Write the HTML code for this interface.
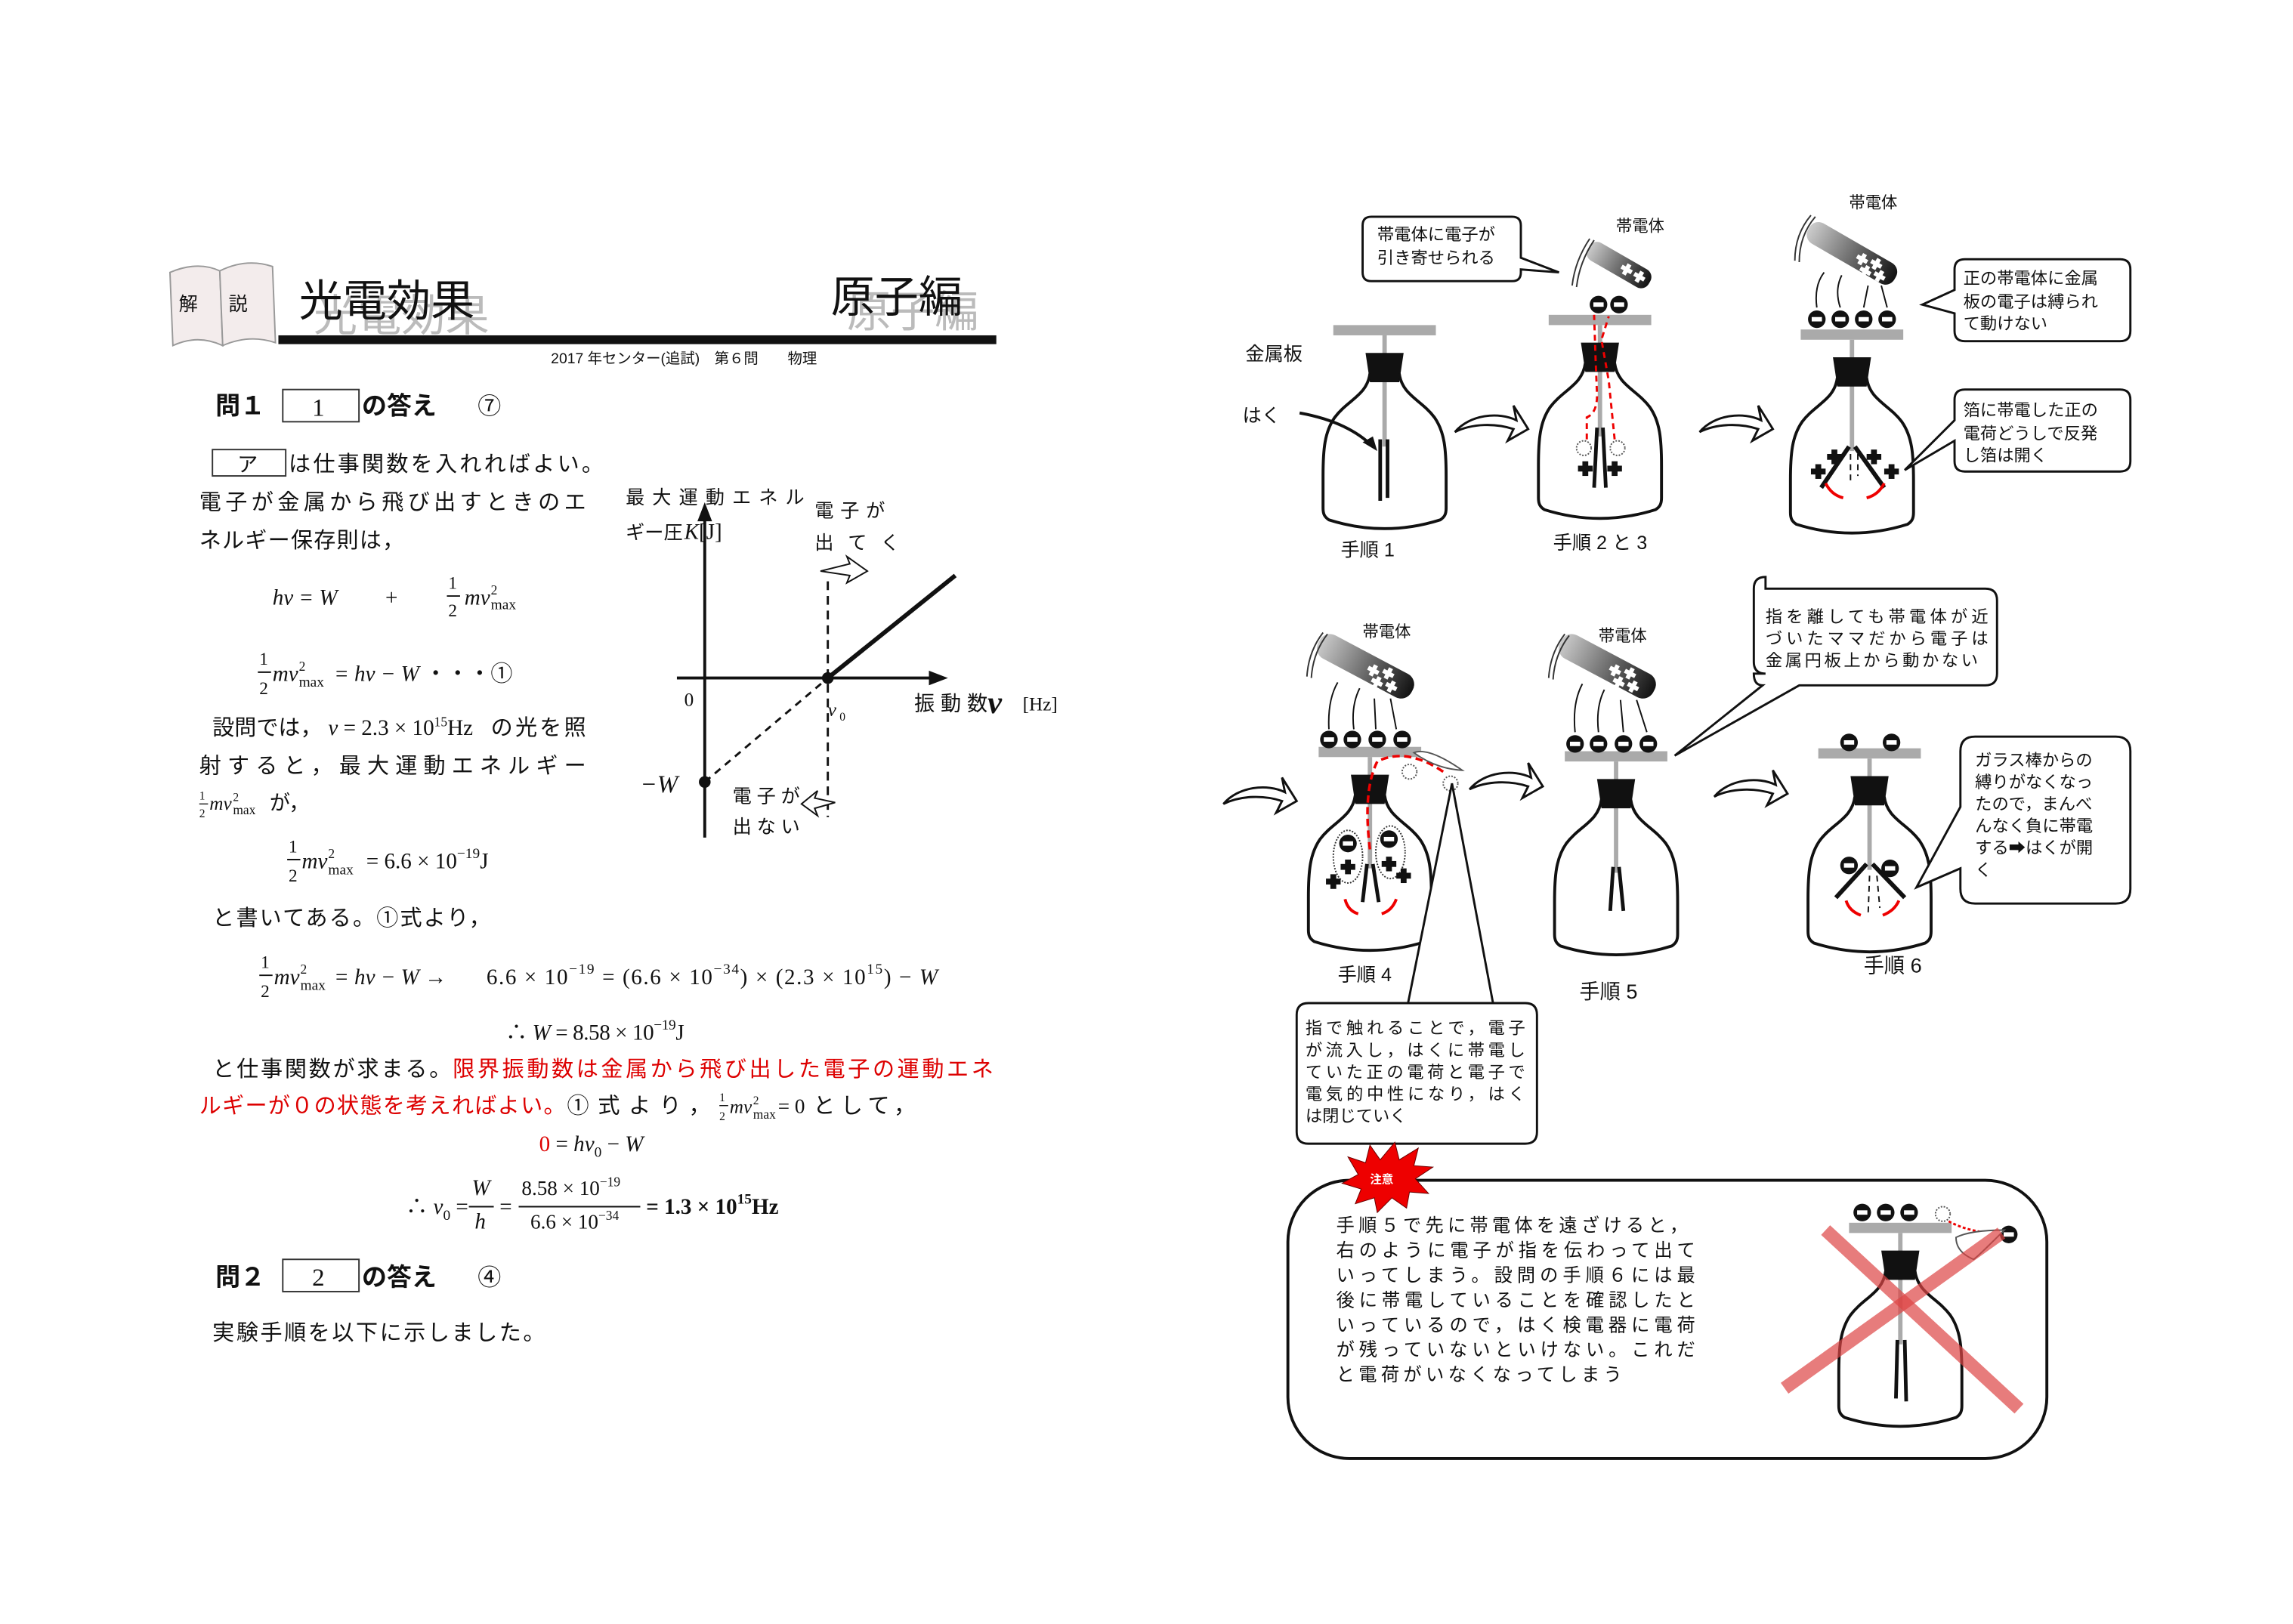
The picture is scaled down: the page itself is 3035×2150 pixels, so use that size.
<!DOCTYPE html>
<html><head><meta charset="utf-8">
<style>
html,body{margin:0;padding:0;background:#fff;}
svg{display:block;}
text{font-family:"Liberation Sans","Noto Sans CJK JP",sans-serif;fill:#111;}
.m{font-family:"Liberation Serif","Noto Sans CJK JP",serif;font-style:italic;}
.r{font-family:"Liberation Serif","Noto Sans CJK JP",serif;}
.red{fill:#d00;}
</style></head><body>
<svg width="3035" height="2150" viewBox="0 0 1565 1109" preserveAspectRatio="none" xmlns="http://www.w3.org/2000/svg">
<defs>
<linearGradient id="rg" x1="0" y1="0" x2="1" y2="0"><stop offset="0" stop-color="#ccc"/><stop offset="1" stop-color="#111"/></linearGradient>
<g id="bottle">
<rect x="-35" y="-3" width="70" height="7" fill="#aaa"/>
<line x1="0" y1="4" x2="0" y2="80" stroke="#aaa" stroke-width="3"/>
<polygon points="-13,16 13,16 10,36 -10,36" fill="#111"/>
<path d="M-10,30 C-12,45 -25,48 -34,60 C-41,70 -42,82 -42,100 L-42,122 C-42,126 -41,128 -38,130 Q0,142 38,130 C41,128 42,126 42,122 L42,100 C42,82 41,70 34,60 C25,48 12,45 10,30" fill="none" stroke="#111" stroke-width="2"/>
</g>
<g id="el"><circle r="6" fill="#111"/><rect x="-3.5" y="-1.5" width="7" height="3" fill="#fff"/></g>
<g id="harrow"><path d="M0,12 C10,0 30,-2 42,4 L40,-6 L50,10 L36,18 L40,10 C28,6 12,6 0,12 Z" fill="#fff" stroke="#111" stroke-width="1.5"/></g>
<g id="pl"><rect x="-4" y="-1.5" width="8" height="3" fill="#fff"/><rect x="-1.5" y="-4" width="3" height="8" fill="#fff"/></g>
<g id="bpl"><rect x="-5" y="-2" width="10" height="4" fill="#111"/><rect x="-2" y="-5" width="4" height="10" fill="#111"/></g>
</defs>

<!-- Header -->
<path d="M116,186 Q135,178 150,185 L152,236 Q135,228 118,236 Z" fill="#f3ecec" stroke="#999"/>
<path d="M150,185 Q168,176 186,182 L188,234 Q170,228 152,236 Z" fill="#f3ecec" stroke="#999"/>
<text x="122" y="212" font-size="13">解</text><text x="156" y="212" font-size="13">説</text>
<text x="214" y="226" font-size="30" style="fill:#bbb">光電効果</text>
<text x="204" y="216" font-size="30">光電効果</text>
<text x="578" y="223" font-size="30" style="fill:#bbb">原子編</text>
<text x="567" y="213" font-size="30">原子編</text>
<rect x="190" y="229" width="490" height="6" fill="#111"/>
<text x="376" y="248" font-size="10">2017 年センター(追試)　第６問　　物理</text>

<!-- Left text -->
<text x="147" y="283" font-size="17" font-weight="bold">問１</text>
<rect x="193" y="266" width="52" height="22" fill="none" stroke="#333"/>
<text x="213" y="284" font-size="17" class="r">1</text>
<text x="247" y="283" font-size="17" font-weight="bold">の答え</text>
<text x="326" y="283" font-size="16">⑦</text>

<rect x="145" y="307" width="50" height="18" fill="none" stroke="#333"/>
<text x="162" y="322" font-size="14">ア</text>
<text x="197" y="322" font-size="15" textLength="215" lengthAdjust="spacing">は仕事関数を入れればよい。</text>
<text x="136" y="348" font-size="15" textLength="264" lengthAdjust="spacing">電子が金属から飛び出すときのエ</text>
<text x="136" y="374" font-size="15" textLength="140" lengthAdjust="spacing">ネルギー保存則は，</text>

<text x="186" y="413" font-size="15" class="m">hν = W</text>
<text x="263" y="413" font-size="15" class="r">+</text>
<text x="306" y="402" font-size="12" class="r">1</text><line x1="305" y1="407" x2="314" y2="407" stroke="#111"/><text x="306" y="421" font-size="12" class="r">2</text>
<text x="317" y="413" font-size="15" class="m">mv</text><text x="335" y="406" font-size="9" class="r">2</text><text x="335" y="416" font-size="10" class="r">max</text>

<text x="177" y="454" font-size="12" class="r">1</text><line x1="176" y1="459" x2="185" y2="459" stroke="#111"/><text x="177" y="474" font-size="12" class="r">2</text>
<text x="186" y="465" font-size="15" class="m">mv</text><text x="204" y="458" font-size="9" class="r">2</text><text x="204" y="469" font-size="10" class="r">max</text>
<text x="228" y="465" font-size="15" class="m">= hν − W <tspan class="r" style="font-style:normal">・・・①</tspan></text>

<text x="145" y="502" font-size="15">設問では，</text>
<text x="224" y="502" font-size="15" class="r"><tspan class="m">ν</tspan> = 2.3 × 10<tspan font-size="9" dy="-6">15</tspan><tspan dy="6">Hz</tspan></text>
<text x="335" y="502" font-size="15" textLength="65" lengthAdjust="spacing">の光を照</text>
<text x="136" y="528" font-size="15" textLength="264" lengthAdjust="spacing">射すると，最大運動エネルギー</text>
<text x="136" y="546" font-size="8" class="r">1</text><line x1="136" y1="549" x2="142" y2="549" stroke="#111" stroke-width=".7"/><text x="136" y="558" font-size="8" class="r">2</text>
<text x="143" y="553" font-size="13" class="m">mv</text><text x="159" y="547" font-size="8" class="r">2</text><text x="159" y="556" font-size="9" class="r">max</text>
<text x="184" y="553" font-size="14">が，</text>

<text x="197" y="582" font-size="12" class="r">1</text><line x1="196" y1="587" x2="205" y2="587" stroke="#111"/><text x="197" y="602" font-size="12" class="r">2</text>
<text x="206" y="593" font-size="15" class="m">mv</text><text x="224" y="586" font-size="9" class="r">2</text><text x="224" y="597" font-size="10" class="r">max</text>
<text x="250" y="593" font-size="15" class="r">= 6.6 × 10<tspan font-size="10" dy="-7">−19</tspan><tspan dy="7">J</tspan></text>

<text x="145" y="632" font-size="15" textLength="190" lengthAdjust="spacing">と書いてある。①式より，</text>

<text x="178" y="661" font-size="12" class="r">1</text><line x1="177" y1="666" x2="186" y2="666" stroke="#111"/><text x="178" y="681" font-size="12" class="r">2</text>
<text x="187" y="672" font-size="15" class="m">mv</text><text x="205" y="665" font-size="9" class="r">2</text><text x="205" y="676" font-size="10" class="r">max</text>
<text x="228" y="672" font-size="15" class="m">= hν − W →</text>
<text x="332" y="672" font-size="15" class="r" textLength="308" lengthAdjust="spacing">6.6 × 10<tspan font-size="10" dy="-7">−19</tspan><tspan dy="7"> = (6.6 × 10</tspan><tspan font-size="10" dy="-7">−34</tspan><tspan dy="7">) × (2.3 × 10</tspan><tspan font-size="10" dy="-7">15</tspan><tspan dy="7">) − </tspan><tspan class="m">W</tspan></text>

<text x="345" y="710" font-size="15" class="r" textLength="122" lengthAdjust="spacing">∴ <tspan class="m">W</tspan> = 8.58 × 10<tspan font-size="10" dy="-7">−19</tspan><tspan dy="7">J</tspan></text>

<text x="145" y="735" font-size="15" textLength="163" lengthAdjust="spacing">と仕事関数が求まる。</text>
<text x="309" y="735" font-size="15" class="red" textLength="369" lengthAdjust="spacing">限界振動数は金属から飛び出した電子の運動エネ</text>
<text x="136" y="760" font-size="15" class="red" textLength="250" lengthAdjust="spacing">ルギーが０の状態を考えればよい。</text>
<text x="387" y="760" font-size="15" textLength="98" lengthAdjust="spacing">①式より，</text>
<text x="491" y="752" font-size="8" class="r">1</text><line x1="491" y1="755" x2="497" y2="755" stroke="#111" stroke-width=".7"/><text x="491" y="765" font-size="8" class="r">2</text>
<text x="498" y="760" font-size="13" class="m">mv</text><text x="514" y="754" font-size="8" class="r">2</text><text x="514" y="764" font-size="9" class="r">max</text>
<text x="531" y="760" font-size="14" class="r">= 0</text><text x="555" y="760" font-size="15" textLength="70" lengthAdjust="spacing">として，</text>

<text x="368" y="786" font-size="15" class="r"><tspan class="red">0</tspan> = <tspan class="m">hν</tspan><tspan font-size="10" dy="4">0</tspan><tspan dy="-4"> − </tspan><tspan class="m">W</tspan></text>

<text x="277" y="829" font-size="15" class="r">∴ <tspan class="m">ν</tspan><tspan font-size="10" dy="4">0</tspan><tspan dy="-4"> =</tspan></text>
<text x="322" y="816" font-size="15" class="m">W</text><line x1="320" y1="824" x2="337" y2="824" stroke="#111"/><text x="324" y="839" font-size="15" class="m">h</text>
<text x="341" y="829" font-size="15" class="r">=</text>
<text x="356" y="816" font-size="14" class="r">8.58 × 10<tspan font-size="9" dy="-6">−19</tspan></text><line x1="354" y1="824" x2="437" y2="824" stroke="#111"/>
<text x="362" y="839" font-size="14" class="r">6.6 × 10<tspan font-size="9" dy="-6">−34</tspan></text>
<text x="441" y="829" font-size="15" class="r" font-weight="bold">= 1.3 × 10<tspan font-size="10" dy="-7">15</tspan><tspan dy="7">Hz</tspan></text>

<text x="147" y="878" font-size="17" font-weight="bold">問２</text>
<rect x="193" y="860" width="52" height="22" fill="none" stroke="#333"/>
<text x="213" y="878" font-size="17" class="r">2</text>
<text x="247" y="878" font-size="17" font-weight="bold">の答え</text>
<text x="326" y="878" font-size="16">④</text>
<text x="145" y="915" font-size="15" textLength="227" lengthAdjust="spacing">実験手順を以下に示しました。</text>

<!-- Graph -->
<line x1="481" y1="572" x2="481" y2="350" stroke="#111" stroke-width="2"/>
<polygon points="481,343 476,356 486,356" fill="#111"/>
<line x1="462" y1="463" x2="640" y2="463" stroke="#111" stroke-width="2"/>
<polygon points="647,463 634,458 634,468" fill="#111"/>
<line x1="565" y1="463" x2="652" y2="393" stroke="#111" stroke-width="3"/>
<line x1="481" y1="534" x2="565" y2="463" stroke="#111" stroke-width="1.5" stroke-dasharray="5,4"/>
<line x1="565" y1="397" x2="565" y2="558" stroke="#111" stroke-width="1.5" stroke-dasharray="6,4"/>
<circle cx="565" cy="463" r="4" fill="#111"/><circle cx="481" cy="534" r="4" fill="#111"/>
<text x="427" y="344" font-size="13" textLength="122" lengthAdjust="spacing">最大運動エネル</text>
<text x="427" y="368" font-size="13">ギー圧</text><text x="467" y="368" font-size="15" class="m">K</text><text x="477" y="368" font-size="15" class="r">[J]</text>
<text x="556" y="353" font-size="13" textLength="48" lengthAdjust="spacing">電子が</text>
<text x="556" y="375" font-size="13" textLength="58" lengthAdjust="spacing">出てく</text>
<path d="M560,390 L580,385 L578,380 L592,390 L578,398 L580,393 Z" fill="#fff" stroke="#111"/>
<path d="M570,548 L556,545 L558,540 L547,549 L558,557 L556,552 Z" fill="#fff" stroke="#111"/>
<text x="467" y="482" font-size="13" class="r">0</text>
<text x="565" y="489" font-size="13" class="m">ν</text><text x="573" y="492" font-size="8" class="r">0</text>
<text x="624" y="485" font-size="14" textLength="50" lengthAdjust="spacing">振動数</text>
<text x="674" y="487" font-size="22" class="m" font-weight="bold">ν</text>
<text x="698" y="485" font-size="13" class="r">[Hz]</text>
<text x="437" y="541" font-size="17" class="m">−W</text>
<text x="500" y="548" font-size="13" textLength="46" lengthAdjust="spacing">電子が</text>
<text x="500" y="569" font-size="13" textLength="46" lengthAdjust="spacing">出ない</text>

<!-- Right: steps -->
<use href="#bottle" x="945" y="225"/>
<line x1="942" y1="300" x2="942" y2="342" stroke="#111" stroke-width="2.5"/><line x1="947" y1="300" x2="947" y2="340" stroke="#111" stroke-width="2.5"/>
<text x="850" y="246" font-size="13">金属板</text>
<text x="848" y="288" font-size="13">はく</text>
<path d="M887,282 Q920,288 937,305" fill="none" stroke="#111" stroke-width="2"/><polygon points="940,308 930,302 937,298" fill="#111"/>
<text x="915" y="380" font-size="13">手順 1</text>

<use href="#bottle" x="1092" y="218"/>
<line x1="1090" y1="292" x2="1088" y2="333" stroke="#111" stroke-width="2.5"/><line x1="1094" y1="292" x2="1096" y2="333" stroke="#111" stroke-width="2.5"/>
<use href="#bpl" x="1082" y="320"/><use href="#bpl" x="1102" y="320"/>
<circle cx="1081" cy="306" r="5" fill="none" stroke="#555" stroke-dasharray="1,1"/><circle cx="1104" cy="306" r="5" fill="none" stroke="#555" stroke-dasharray="1,1"/>
<path d="M1083,300 L1083,285 Q1090,282 1090,270 L1089,245 L1088,215" fill="none" stroke="#e00" stroke-width="1.5" stroke-dasharray="4,3"/>
<path d="M1102,300 L1098,260 L1093,232 L1098,216" fill="none" stroke="#e00" stroke-width="1.5" stroke-dasharray="4,3"/>
<use href="#el" x="1091" y="208"/><use href="#el" x="1105" y="208"/>
<g transform="translate(1105,181) rotate(30)"><rect x="-24" y="-7" width="48" height="14" rx="6" fill="url(#rg)"/><use href="#pl" x="6"/><use href="#pl" x="16"/></g>
<path d="M1085,163 Q1075,178 1073,195 M1088,164 Q1078,179 1076,196" fill="none" stroke="#333"/>
<text x="1103" y="158" font-size="11">帯電体</text>
<text x="1060" y="375" font-size="13">手順 2 と 3</text>
<path d="M936,148 h96 q6,0 6,6 v22 l26,10 l-26,-2 v2 q0,6 -6,6 h-96 q-6,0 -6,-6 v-32 q0,-6 6,-6z" fill="#fff" stroke="#111" stroke-width="1.5"/>
<text x="940" y="164" font-size="11.5">帯電体に電子が</text><text x="940" y="180" font-size="11.5">引き寄せられる</text>

<use href="#bottle" x="1264" y="228"/>
<line x1="1262" y1="305" x2="1243" y2="333" stroke="#111" stroke-width="3"/><line x1="1266" y1="305" x2="1286" y2="333" stroke="#111" stroke-width="3"/>
<line x1="1263" y1="310" x2="1263" y2="330" stroke="#111" stroke-dasharray="4,3"/><line x1="1268" y1="310" x2="1268" y2="325" stroke="#111" stroke-dasharray="4,3"/>
<use href="#bpl" x="1252" y="312"/><use href="#bpl" x="1279" y="312"/><use href="#bpl" x="1241" y="322"/><use href="#bpl" x="1291" y="322"/>
<path d="M1258,340 Q1250,338 1246,330 M1274,340 Q1282,338 1286,330" fill="none" stroke="#e00" stroke-width="2"/>
<use href="#el" x="1240" y="218"/><use href="#el" x="1256" y="218"/><use href="#el" x="1272" y="218"/><use href="#el" x="1288" y="218"/>
<g transform="translate(1264,173) rotate(30)"><rect x="-34" y="-8" width="68" height="16" rx="7" fill="url(#rg)"/><use href="#pl" x="8"/><use href="#pl" x="18" y="-2"/><use href="#pl" x="24" y="4"/><use href="#pl" x="14" y="6"/></g>
<path d="M1236,147 Q1225,160 1225,178 M1239,148 Q1228,161 1228,179" fill="none" stroke="#333"/>
<path d="M1245,186 Q1238,195 1240,210 M1257,188 Q1252,198 1256,210 M1275,195 L1272,210 M1284,195 L1288,210" fill="none" stroke="#111"/>
<text x="1262" y="142" font-size="11">帯電体</text>
<path d="M1341,177 h106 q7,0 7,7 v42 q0,7 -7,7 h-106 q-7,0 -7,-7 v-12 l-22,-6 l22,-10 v-14 q0,-7 7,-7z" fill="#fff" stroke="#111" stroke-width="1.5"/>
<text x="1340" y="194" font-size="11.5">正の帯電体に金属</text><text x="1340" y="210" font-size="11.5">板の電子は縛られ</text><text x="1340" y="225" font-size="11.5">て動けない</text>
<path d="M1341,266 h106 q7,0 7,7 v42 q0,7 -7,7 h-106 q-7,0 -7,-7 v-14 l-34,20 l34,-34 v-14 q0,-7 7,-7z" fill="#fff" stroke="#111" stroke-width="1.5"/>
<text x="1340" y="284" font-size="11.5">箔に帯電した正の</text><text x="1340" y="300" font-size="11.5">電荷どうしで反発</text><text x="1340" y="315" font-size="11.5">し箔は開く</text>

<use href="#harrow" x="993" y="283"/>
<use href="#harrow" x="1160" y="283"/>
<use href="#harrow" x="835" y="537"/>
<use href="#harrow" x="1003" y="527"/>
<use href="#harrow" x="1170" y="532"/>

<!-- Step 4 -->
<use href="#bottle" x="935" y="513"/>
<line x1="933" y1="590" x2="930" y2="616" stroke="#111" stroke-width="2.5"/><line x1="937" y1="590" x2="941" y2="616" stroke="#111" stroke-width="2.5"/>
<ellipse cx="920" cy="585" rx="10" ry="18" fill="none" stroke="#333" stroke-dasharray="1,1"/><ellipse cx="949" cy="582" rx="10" ry="18" fill="none" stroke="#333" stroke-dasharray="1,1"/>
<use href="#el" x="920" y="576"/><use href="#el" x="948" y="573"/><use href="#bpl" x="920" y="592"/><use href="#bpl" x="948" y="590"/>
<use href="#bpl" x="910" y="602"/><use href="#bpl" x="958" y="598"/>
<path d="M918,614 Q920,622 927,624 M953,614 Q950,622 943,624" fill="none" stroke="#e00" stroke-width="2"/>
<path d="M985,527 Q960,510 940,520 Q930,540 935,580" fill="none" stroke="#e00" stroke-width="1.8" stroke-dasharray="5,3"/>
<circle cx="962" cy="527" r="5" fill="#fff" stroke="#555" stroke-dasharray="1,1"/><circle cx="990" cy="535" r="5" fill="#fff" stroke="#555" stroke-dasharray="1,1"/>
<path d="M965,514 Q975,510 998,526 Q980,525 965,514z" fill="#fff" stroke="#555"/>
<use href="#el" x="907" y="505"/><use href="#el" x="923" y="505"/><use href="#el" x="940" y="505"/><use href="#el" x="957" y="505"/>
<g transform="translate(932,455) rotate(28)"><rect x="-36" y="-9" width="72" height="18" rx="8" fill="url(#rg)"/><use href="#pl" x="6"/><use href="#pl" x="16" y="-3"/><use href="#pl" x="22" y="4"/><use href="#pl" x="12" y="6"/></g>
<path d="M903,432 Q893,445 892,462 M906,433 Q896,446 895,463" fill="none" stroke="#333"/>
<path d="M913,466 Q906,478 907,498 M928,470 Q922,482 924,498 M938,477 L939,498 M949,477 L953,498" fill="none" stroke="#111"/>
<text x="930" y="435" font-size="11">帯電体</text>
<text x="913" y="670" font-size="13">手順 4</text>
<path d="M893,685 h148 q8,0 8,8 v80 q0,8 -8,8 h-148 q-8,0 -8,-8 v-80 q0,-8 8,-8 h68 l30,-150 l28,150 z" fill="#fff" stroke="#111" stroke-width="1.5"/>
<text x="891" y="706" font-size="11.5" textLength="150" lengthAdjust="spacing">指で触れることで，電子</text>
<text x="891" y="721" font-size="11.5" textLength="150" lengthAdjust="spacing">が流入し，はくに帯電し</text>
<text x="891" y="736" font-size="11.5" textLength="150" lengthAdjust="spacing">ていた正の電荷と電子で</text>
<text x="891" y="751" font-size="11.5" textLength="150" lengthAdjust="spacing">電気的中性になり，はく</text>
<text x="891" y="766" font-size="11.5">は閉じていく</text>

<!-- Step 5 -->
<use href="#bottle" x="1103" y="516"/>
<line x1="1101" y1="592" x2="1099" y2="622" stroke="#111" stroke-width="2.5"/><line x1="1105" y1="592" x2="1108" y2="622" stroke="#111" stroke-width="2.5"/>
<use href="#el" x="1075" y="508"/><use href="#el" x="1091" y="508"/><use href="#el" x="1108" y="508"/><use href="#el" x="1125" y="508"/>
<g transform="translate(1097,455) rotate(28)"><rect x="-36" y="-9" width="72" height="18" rx="8" fill="url(#rg)"/><use href="#pl" x="6"/><use href="#pl" x="16" y="-3"/><use href="#pl" x="22" y="4"/><use href="#pl" x="12" y="6"/></g>
<path d="M1068,433 Q1058,446 1057,463 M1071,434 Q1061,447 1060,464" fill="none" stroke="#333"/>
<path d="M1080,467 Q1073,480 1075,500 M1095,471 Q1089,483 1091,500 M1106,478 L1108,500 M1117,478 L1124,500" fill="none" stroke="#111"/>
<text x="1091" y="438" font-size="11">帯電体</text>
<text x="1078" y="682" font-size="14">手順 5</text>
<path d="M1205,402 h150 q8,0 8,8 v50 q0,8 -8,8 h-127 l-85,48 l60,-48 h-0 q-6,0 -6,-8 v0 h8 q-8,0 -8,-8 v-50 q0,-8 8,-8z" fill="#fff" stroke="#111" stroke-width="1.5"/>
<text x="1205" y="425" font-size="11.5" textLength="152" lengthAdjust="spacing">指を離しても帯電体が近</text>
<text x="1205" y="440" font-size="11.5" textLength="152" lengthAdjust="spacing">づいたママだから電子は</text>
<text x="1205" y="455" font-size="11.5" textLength="145" lengthAdjust="spacing">金属円板上から動かない</text>

<!-- Step 6 -->
<use href="#bottle" x="1276" y="514"/>
<line x1="1274" y1="590" x2="1253" y2="613" stroke="#111" stroke-width="3"/><line x1="1278" y1="590" x2="1300" y2="613" stroke="#111" stroke-width="3"/>
<line x1="1276" y1="598" x2="1275" y2="625" stroke="#111" stroke-dasharray="4,3"/><line x1="1281" y1="598" x2="1283" y2="620" stroke="#111" stroke-dasharray="4,3"/>
<use href="#el" x="1262" y="591"/><use href="#el" x="1290" y="593"/>
<path d="M1270,625 Q1262,622 1260,615 M1285,625 Q1293,622 1296,615" fill="none" stroke="#e00" stroke-width="2"/>
<use href="#el" x="1262" y="507"/><use href="#el" x="1291" y="507"/>
<text x="1272" y="664" font-size="14">手順 6</text>
<path d="M1348,503 h96 q10,0 10,10 v94 q0,10 -10,10 h-96 q-10,0 -10,-10 v-14 l-30,13 l30,-55 v-38 q0,-10 10,-10z" fill="#fff" stroke="#111" stroke-width="1.5"/>
<text x="1348" y="523" font-size="11.5">ガラス棒からの</text>
<text x="1348" y="538" font-size="11.5">縛りがなくなっ</text>
<text x="1348" y="553" font-size="11.5">たので，まんべ</text>
<text x="1348" y="568" font-size="11.5">んなく負に帯電</text>
<text x="1348" y="583" font-size="11.5">する➡はくが開</text>
<text x="1348" y="598" font-size="11.5">く</text>

<!-- Caution box -->
<rect x="879" y="806" width="518" height="190" rx="42" fill="#fff" stroke="#111" stroke-width="2"/>
<polygon points="920,790 932,794 935,782 942,792 952,780 955,792 968,784 965,796 978,797 966,805 975,815 962,814 960,825 950,818 940,828 938,818 925,822 929,812 916,808 927,802" fill="#e00" stroke="#600" stroke-width=".5"/>
<text x="935" y="808" font-size="8" font-weight="bold" style="fill:#fff">注意</text>
<text x="912" y="841" font-size="12.5" textLength="240" lengthAdjust="spacing">手順５で先に帯電体を遠ざけると，</text>
<text x="912" y="858" font-size="12.5" textLength="245" lengthAdjust="spacing">右のように電子が指を伝わって出て</text>
<text x="912" y="875" font-size="12.5" textLength="245" lengthAdjust="spacing">いってしまう。設問の手順６には最</text>
<text x="912" y="892" font-size="12.5" textLength="245" lengthAdjust="spacing">後に帯電していることを確認したと</text>
<text x="912" y="909" font-size="12.5" textLength="245" lengthAdjust="spacing">いっているので，はく検電器に電荷</text>
<text x="912" y="926" font-size="12.5" textLength="245" lengthAdjust="spacing">が残っていないといけない。これだ</text>
<text x="912" y="943" font-size="12.5" textLength="195" lengthAdjust="spacing">と電荷がいなくなってしまう</text>
<g transform="translate(1297,838)"><use href="#bottle"/></g>
<line x1="1295" y1="915" x2="1294" y2="955" stroke="#111" stroke-width="2.5"/><line x1="1300" y1="915" x2="1301" y2="957" stroke="#111" stroke-width="2.5"/>
<use href="#el" x="1271" y="828"/><use href="#el" x="1287" y="828"/><use href="#el" x="1303" y="828"/>
<circle cx="1326" cy="829" r="5" fill="none" stroke="#555" stroke-dasharray="1,1"/>
<path d="M1330,834 Q1345,842 1364,842" fill="none" stroke="#e00" stroke-width="1.5" stroke-dasharray="2,1.5"/>
<use href="#el" x="1371" y="843"/>
<path d="M1335,845 Q1345,840 1368,840 Q1350,858 1347,860 Q1335,855 1335,845z" fill="#fff" stroke="#555"/>
<line x1="1246" y1="840" x2="1378" y2="962" stroke="#d44" stroke-opacity=".7" stroke-width="9"/>
<line x1="1218" y1="948" x2="1366" y2="842" stroke="#d44" stroke-opacity=".7" stroke-width="9"/>
</svg>
</body></html>
